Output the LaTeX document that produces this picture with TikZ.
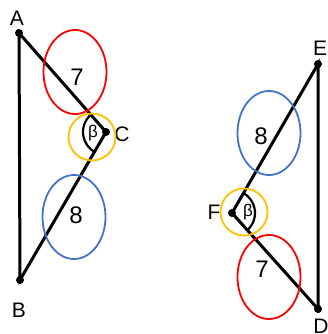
\documentclass[tikz,border=0pt]{standalone}
\usepackage{fontspec}
\setmainfont{Liberation Sans}
\usetikzlibrary{shapes.geometric, angles, positioning}
\tikzstyle{point} = [circle, fill=black, inner sep=0pt, minimum size=8pt]
\tikzstyle{side} = [line width=3pt]
\tikzstyle{ring} = [ellipse, line width=1.8pt, minimum width=63pt, minimum height=84pt]
\tikzstyle{anglering} = [circle, draw=orange!80!yellow, line width=1.8pt, minimum size=47pt, inner sep=0pt]
\tikzstyle{vertex} = [font=\fontsize{21}{21}\selectfont, inner sep=0pt]
\tikzstyle{length} = [font=\fontsize{24}{24}\selectfont, inner sep=0pt]
\tikzstyle{betalabel} = [font=\fontsize{17}{17}\selectfont, inner sep=0pt]
\definecolor{ringred}{HTML}{FF0000}
\definecolor{ringblue}{HTML}{4472C4}
\definecolor{ringorange}{HTML}{FFC000}

\begin{document}
\begin{tikzpicture}[x=1pt, y=-1pt]
    \useasboundingbox (0,0) rectangle (328,334);

    % left triangle
    \node (A) [point] at (19,33) {};
    \node (B) [point] at (20,280) {};
    \node (C) [point] at (106,132) {};
    \node (Atext) [vertex] at (17,18) {A};
    \node (Btext) [vertex] at (19,310) {B};
    \node (Ctext) [vertex] at (122,134) {C};

    \draw [side] (A.center) -- (C.center) -- (B.center) -- cycle;
    \pic [draw, line width=2.2pt, angle radius=23pt] {angle = A--C--B};

    \node (redL) [ring, draw=ringred] at (75,72) {};
    \node (blueL) [ring, draw=ringblue] at (74,217) {};
    \node (orangeL) [anglering, draw=ringorange] at (92,137) {};
    \node (sevenL) [length] at (77,77) {7};
    \node (eightL) [length] at (76,215) {8};
    \node (betaL) [betalabel] at (93,133) {β};

    % right triangle
    \node (E) [point] at (318,64) {};
    \node (D) [point] at (318,309) {};
    \node (F) [point] at (232,213) {};
    \node (Etext) [vertex] at (320,48) {E};
    \node (Dtext) [vertex] at (321,326) {D};
    \node (Ftext) [vertex] at (214,212) {F};

    \draw [side] (E.center) -- (F.center) -- (D.center) -- cycle;
    \pic [draw, line width=2.2pt, angle radius=23pt] {angle = D--F--E};

    \node (blueR) [ring, draw=ringblue] at (269,133) {};
    \node (redR) [ring, draw=ringred] at (269,277) {};
    \node (orangeR) [anglering, draw=ringorange] at (244,212) {};
    \node (eightR) [length] at (261,136) {8};
    \node (sevenR) [length] at (262,269) {7};
    \node (betaR) [betalabel] at (248,212) {β};
\end{tikzpicture}
\end{document}
